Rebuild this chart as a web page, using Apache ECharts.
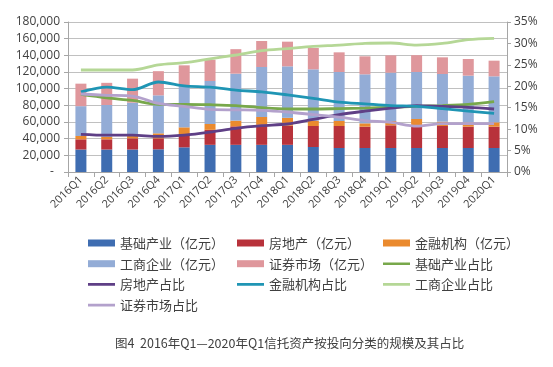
<!DOCTYPE html>
<html><head><meta charset="utf-8">
<script src="https://cdn.jsdelivr.net/npm/echarts@6/dist/echarts.min.js"></script>
<style>html,body{margin:0;padding:0;background:#fff}#c{width:553px;height:367px}</style>
</head><body><div id="c"></div>
<script>
const categories = ['2016Q1','2016Q2','2016Q3','2016Q4','2017Q1','2017Q2','2017Q3','2017Q4','2018Q1','2018Q2','2018Q3','2018Q4','2019Q1','2019Q2','2019Q3','2019Q4','2020Q1'];
// 规模（亿元）
const infra    = [27000,27000,27000,27200,29600,32600,32600,32600,32600,30000,28800,28800,28800,28800,28800,28800,28800];
const realty   = [12200,12200,13400,13200,16000,18000,22200,24000,23000,25200,26400,25600,27200,26000,26400,25600,25600];
const finInst  = [ 4000, 3200, 2800, 6000, 8000, 7000, 6800, 9400, 9400, 6400, 6000, 4000, 5200, 8800, 5200, 5000, 5200];
const business = [35800,38000,40000,45600,49000,51600,56400,60000,61800,61600,58800,58800,58000,56400,57200,56200,55200];
const secMkt   = [27000,26600,28800,29000,25400,25600,29400,31200,29600,25600,23600,21600,20800,20200,20000,20000,18800];
// 占比（%）
const infraPct    = [18.1,17.3,16.7,15.8,15.8,15.7,15.5,15.0,14.7,14.7,14.8,14.9,15.1,15.3,15.5,15.8,16.4];
const realtyPct   = [8.8,8.6,8.6,8.3,8.6,9.3,10.2,10.8,11.2,12.3,13.4,14.2,14.9,15.5,15.3,15.1,14.7];
const finInstPct  = [18.7,19.8,19.2,21.0,20.1,19.8,19.1,18.7,18.0,17.2,16.3,15.9,15.5,15.3,14.8,14.2,13.7];
const businessPct = [23.8,23.8,23.8,25.0,25.5,26.4,27.3,28.3,28.8,29.3,29.6,30.0,30.1,29.6,30.0,30.9,31.2];
const secMktPct   = [18.2,17.9,17.7,16.0,15.3,14.6,14.5,14.4,14.0,13.4,12.8,12.0,11.6,10.7,11.3,11.3,11.3];
const leftTicks = {min:0, max:180000, interval:20000};
const rightTicks = {min:0, max:35, interval:5};
const caption = '图4  2016年Q1—2020年Q1信托资产按投向分类的规模及其占比';

const chart = echarts.init(document.getElementById('c'), null, {renderer:'canvas'});
const font = 'Noto Sans CJK SC';
const axisFont = 'Open Sans';
function bar(name, data, color){ return {name, type:'bar', stack:'s', data, barWidth:11, itemStyle:{color}, yAxisIndex:0}; }
function line(name, data, color){ return {name, type:'line', data, yAxisIndex:1, symbol:'none', smooth:0.3, lineStyle:{color, width:2.8}, itemStyle:{color}, z:5}; }
const barNames = ['基础产业（亿元）','房地产（亿元）','金融机构（亿元）','工商企业（亿元）','证券市场（亿元）'];
const lineIcon = 'path://M0,0 L0.01,0 L0,0.01 Z M0,2.2 L27,2.2 L27,4.8 L0,4.8 Z M27,7 L26.99,7 L27,6.99 Z';
function items(list){ return list.map(n => barNames.includes(n) ? {name:n, icon:'rect'} : {name:n, icon:lineIcon}); }
const legendBase = {orient:'vertical', top:231, itemWidth:27, itemHeight:7, itemGap:6.7, textStyle:{fontFamily:font, fontSize:13, color:'#404040', lineHeight:14}};
chart.setOption({
  animation:false,
  backgroundColor:'#fff',
  title:{text:caption, left:110, top:332, textStyle:{fontFamily:font, fontSize:12.5, fontWeight:'normal', color:'#404040'}},
  grid:{left:68, right:46, top:22, bottom:195},
  legend:[
    Object.assign({left:83, data:items(['基础产业（亿元）','工商企业（亿元）','房地产占比','证券市场占比'])}, legendBase),
    Object.assign({left:232, data:items(['房地产（亿元）','证券市场（亿元）','金融机构占比'])}, legendBase),
    Object.assign({left:378, data:items(['金融机构（亿元）','基础产业占比','工商企业占比'])}, legendBase)
  ],
  xAxis:{type:'category', data:categories, boundaryGap:true,
    axisLine:{lineStyle:{color:'#a6a6a6'}}, axisTick:{show:true, length:5, lineStyle:{color:'#a6a6a6'}},
    axisLabel:{rotate:45, fontSize:11, fontFamily:axisFont, color:'#404040', margin:6, interval:0}},
  yAxis:[
    {type:'value', min:leftTicks.min, max:leftTicks.max, interval:leftTicks.interval,
     axisLine:{show:true, lineStyle:{color:'#a6a6a6'}}, axisTick:{show:true, length:4, lineStyle:{color:'#a6a6a6'}},
     splitLine:{lineStyle:{color:'#c0c0c0'}},
     axisLabel:{fontSize:12, fontFamily:axisFont, color:'#404040', margin:8,
       formatter:v=> v===0 ? '-  ' : v.toLocaleString('en-US')}},
    {type:'value', min:rightTicks.min, max:rightTicks.max, interval:rightTicks.interval, position:'right',
     axisLine:{show:true, lineStyle:{color:'#a6a6a6'}}, axisTick:{show:true, length:4, lineStyle:{color:'#a6a6a6'}},
     splitLine:{show:false},
     axisLabel:{fontSize:12, fontFamily:axisFont, color:'#404040', margin:7, formatter:'{value}%'}}
  ],
  series:[
    bar(barNames[0], infra, '#3f6db1'),
    bar(barNames[1], realty, '#b8323b'),
    bar(barNames[2], finInst, '#ea8a2e'),
    bar(barNames[3], business, '#93acd6'),
    bar(barNames[4], secMkt, '#df979c'),
    line('基础产业占比', infraPct, '#78a84b'),
    line('房地产占比', realtyPct, '#5f3f86'),
    line('金融机构占比', finInstPct, '#1f95b4'),
    line('工商企业占比', businessPct, '#b5d796'),
    line('证券市场占比', secMktPct, '#b3a1cc')
  ]
});
</script></body></html>
